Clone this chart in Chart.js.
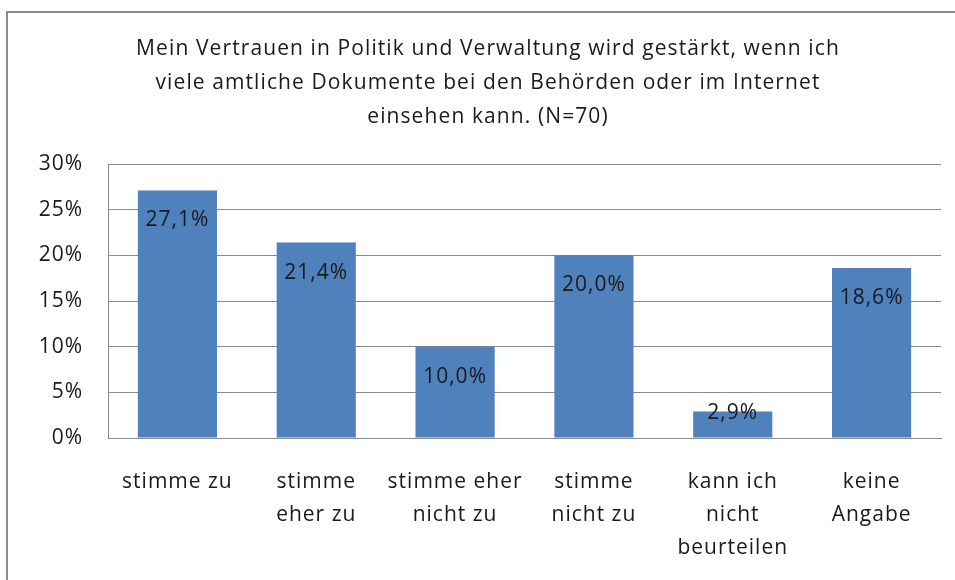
<!DOCTYPE html>
<html>
<head>
<meta charset="utf-8">
<script src="https://cdn.jsdelivr.net/npm/chart.js@4"></script>
<style>
html,body{margin:0;padding:0;background:#fff;}
#wrap{position:relative;width:955px;height:580px;overflow:hidden;}
#frame{position:absolute;left:6px;top:11px;width:980px;height:600px;border-left:2px solid #8c8c8c;border-top:2px solid #8c8c8c;}
canvas{position:absolute;left:0;top:0;}
</style>
</head>
<body>
<div id="wrap">
<div id="frame"></div>
<canvas id="c" width="955" height="580"></canvas>
</div>
<script>
/* ===== 資料 ===== */
const TITLE=['Mein Vertrauen in Politik und Verwaltung wird gestärkt, wenn ich','viele amtliche Dokumente bei den Behörden oder im Internet','einsehen kann. (N=70)'];
const CATS=[['stimme zu'],['stimme','eher zu'],['stimme eher','nicht zu'],['stimme','nicht zu'],['kann ich','nicht','beurteilen'],['keine','Angabe']];
const VALS=[27.1,21.4,10.0,20.0,2.9,18.6];
const LABELS=['27,1%','21,4%','10,0%','20,0%','2,9%','18,6%'];
const Y_MAX=30,Y_STEP=5;

const FONT="'Open Sans', Lato, 'Liberation Sans', sans-serif";
const FS=21,LS='1px';
const TXT='#1a1a1a',GRID='#8a8a8a',BAR='#4f81bd';

/* 字距 (Calibri 較寬的觀感) */
const spacing={id:'spacing',
  beforeLayout(ch){ch.ctx.letterSpacing=LS;},
  beforeDraw(ch){ch.ctx.letterSpacing=LS;}
};

/* 標題 */
const titleText={id:'titleText',afterDraw(ch){
  const ctx=ch.ctx;
  ctx.save();ctx.letterSpacing='1.1px';ctx.font=FS+'px '+FONT;ctx.fillStyle=TXT;ctx.textAlign='center';ctx.textBaseline='middle';
  TITLE.forEach((t,i)=>ctx.fillText(t,488,49+i*34));
  ctx.restore();
}};

/* 數值標籤 */
const valueLabels={id:'valueLabels',afterDatasetsDraw(ch){
  const ctx=ch.ctx,meta=ch.getDatasetMeta(0);
  ctx.save();ctx.letterSpacing=LS;ctx.font=FS+'px '+FONT;ctx.fillStyle=TXT;ctx.textAlign='center';ctx.textBaseline='middle';
  meta.data.forEach((b,i)=>{
    const h=b.base-b.y;
    const y=h>40?b.y+30:b.y+2;
    ctx.fillText(LABELS[i],b.x,y);
  });
  ctx.restore();
}};

new Chart(document.getElementById('c'),{
  type:'bar',
  data:{labels:CATS,datasets:[{data:VALS,backgroundColor:BAR,borderWidth:0,
    barPercentage:0.57,categoryPercentage:1}]},
  options:{
    responsive:false,animation:false,
    layout:{padding:{left:0,right:14,top:164,bottom:0}},
    plugins:{legend:{display:false},tooltip:{enabled:false},title:{display:false}},
    scales:{
      x:{
        grid:{display:false,drawTicks:false},
        border:{display:true,color:GRID,width:1},
        ticks:{color:TXT,font:{family:FONT,size:FS,lineHeight:1.57},padding:28,maxRotation:0,autoSkip:false},
        afterFit(s){s.height=142;}
      },
      y:{
        min:0,max:Y_MAX,
        grid:{color:GRID,drawTicks:false,lineWidth:1},
        border:{display:true,color:GRID,width:1},
        ticks:{stepSize:Y_STEP,color:TXT,font:{family:FONT,size:FS},padding:25,callback:v=>v+'%'},
        afterFit(s){s.width=108;}
      }
    }
  },
  plugins:[spacing,valueLabels,titleText]
});
</script>
</body>
</html>
